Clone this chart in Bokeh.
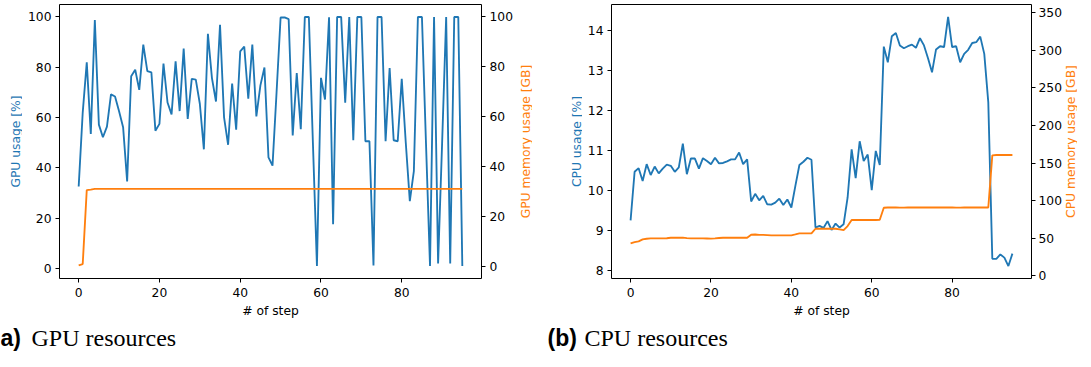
import math
from bokeh.plotting import figure
from bokeh.models import Range1d, LinearAxis, FixedTicker, Label
from bokeh.layouts import row, column
from bokeh.embed import file_html
from bokeh.resources import INLINE

# ---------------- data ----------------
steps = list(range(96))

gpu_usage = [32.6, 62.0, 82.0, 53.5, 98.8, 57.2, 52.2, 56.4, 69.2, 68.4,
             62.5, 56.2, 34.6, 76.4, 79.0, 71.0, 89.0, 78.5, 78.0, 54.8,
             57.5, 81.5, 66.0, 61.3, 82.4, 62.6, 87.4, 59.5, 75.4, 75.1,
             65.5, 47.4, 93.3, 75.7, 66.4, 96.9, 60.1, 49.2, 73.5, 55.2,
             86.3, 88.2, 67.5, 89.0, 60.5, 72.8, 79.9, 44.2, 40.9, 70.0,
             99.8, 99.8, 99.1, 52.9, 77.7, 55.4, 100.0, 100.0, 50.0, 1.0,
             75.8, 67.2, 99.9, 17.6, 100.0, 100.0, 65.9, 100.0, 51.0, 100.0,
             100.0, 50.6, 50.6, 1.2, 100.0, 100.0, 50.6, 79.7, 51.0, 50.6,
             75.4, 50.0, 26.8, 38.7, 100.0, 100.0, 50.0, 1.0, 100.0, 2.0,
             50.0, 100.0, 2.0, 100.0, 100.0, 1.0]

gpu_mem = [0.3, 0.8, 30.5, 30.7, 31.0, 31.0, 31.0, 31.0, 31.0, 31.0,
           31.0, 31.0, 31.0, 31.0, 31.0, 31.0, 31.0, 31.0, 31.0, 31.0,
           31.0, 31.0, 31.0, 31.0, 31.0, 31.0, 31.0, 31.0, 31.0, 31.0,
           31.0, 31.0, 31.0, 31.0, 31.0, 31.0, 31.0, 31.0, 31.0, 31.0,
           31.0, 31.0, 31.0, 31.0, 31.0, 31.0, 31.0, 31.0, 31.0, 31.0,
           31.0, 31.0, 31.0, 31.0, 31.0, 31.0, 31.0, 31.0, 31.0, 31.0,
           31.0, 31.0, 31.0, 31.0, 31.0, 31.0, 31.0, 31.0, 31.0, 31.0,
           31.0, 31.0, 31.0, 31.0, 31.0, 31.0, 31.0, 31.0, 31.0, 31.0,
           31.0, 31.0, 31.0, 31.0, 31.0, 31.0, 31.0, 31.0, 31.0, 31.0,
           31.0, 31.0, 31.0, 31.0, 31.0, 31.0]

cpu_usage = [9.26, 10.47, 10.56, 10.24, 10.66, 10.39, 10.60, 10.43, 10.55, 10.65,
             10.62, 10.47, 10.58, 11.17, 10.41, 10.80, 10.80, 10.55, 10.81, 10.74,
             10.66, 10.82, 10.68, 10.69, 10.73, 10.78, 10.78, 10.95, 10.66, 10.78,
             9.73, 9.92, 9.76, 9.87, 9.66, 9.65, 9.70, 9.80, 9.64, 9.78,
             9.58, 10.12, 10.64, 10.72, 10.82, 10.77, 9.08, 9.12, 9.07, 9.24,
             9.02, 9.18, 9.08, 9.16, 9.83, 11.03, 10.31, 11.23, 10.74, 10.90,
             10.01, 10.99, 10.64, 13.59, 13.20, 13.85, 13.93, 13.62, 13.55, 13.60,
             13.64, 13.56, 13.80, 13.62, 13.30, 12.95, 13.52, 13.60, 13.58, 14.33,
             13.58, 13.60, 13.20, 13.41, 13.51, 13.68, 13.70, 13.84, 13.41, 12.20,
             8.30, 8.30, 8.41, 8.33, 8.12, 8.43]

cpu_mem = [43.1, 44.9, 45.8, 48.4, 49.3, 49.7, 49.7, 49.8, 49.8, 50.0,
           50.6, 50.6, 50.6, 50.8, 50.2, 49.7, 49.7, 49.7, 49.7, 49.6,
           49.5, 49.7, 50.3, 50.6, 50.6, 50.6, 50.6, 50.6, 50.6, 50.6,
           54.6, 55.0, 54.5, 54.5, 54.2, 53.7, 53.7, 53.7, 53.7, 53.7,
           53.7, 55.0, 56.4, 56.4, 56.4, 56.4, 62.6, 62.6, 62.6, 62.6,
           62.6, 62.6, 61.7, 60.8, 66.2, 74.2, 74.2, 74.2, 74.2, 74.2,
           74.2, 74.2, 74.6, 90.6, 90.9, 90.9, 90.9, 90.8, 90.8, 90.9,
           90.9, 90.9, 90.9, 90.9, 90.9, 90.9, 90.9, 90.9, 90.9, 90.9,
           90.9, 90.8, 90.8, 90.9, 90.9, 90.9, 90.9, 90.9, 90.9, 90.9,
           160.3, 160.7, 160.7, 160.7, 160.7, 160.7]

x_ticks = [0, 20, 40, 60, 80]
gpu_ticks = [0, 20, 40, 60, 80, 100]
gpu_mem_ticks = [0, 20, 40, 60, 80, 100]
cpu_ticks = [8, 9, 10, 11, 12, 13, 14]
cpu_mem_ticks = [0, 50, 100, 150, 200, 250, 300, 350]

BLUE = "#1f77b4"
ORANGE = "#ff7f0e"
FONT = "DejaVu Sans"
FS = "12.3px"
FRAME_H = 274
TOP = 4
BOTTOM = 44


def style_axis(ax, ticks, standoff=4):
    ax.ticker = FixedTicker(ticks=ticks)
    ax.axis_line_color = None
    ax.major_tick_line_color = "black"
    ax.major_tick_line_width = 1
    ax.major_tick_out = 4
    ax.major_tick_in = 0
    ax.minor_tick_line_color = None
    ax.major_label_text_font = FONT
    ax.major_label_text_font_size = FS
    ax.major_label_text_color = "black"
    ax.major_label_standoff = standoff


def blank(width, frame_h, top, bottom):
    f = figure(frame_width=width, frame_height=frame_h,
               x_range=Range1d(0, 1), y_range=Range1d(0, 1),
               x_axis_type=None, y_axis_type=None,
               output_backend="svg", toolbar_location=None,
               min_border_left=0, min_border_right=0,
               min_border_top=top, min_border_bottom=bottom)
    f.outline_line_color = None
    f.background_fill_color = "white"
    f.border_fill_color = "white"
    return f


def axis_title(width, text, color, cx):
    f = blank(width, FRAME_H, TOP, BOTTOM)
    f.add_layout(Label(x=cx, y=FRAME_H / 2, x_units="screen", y_units="screen",
                       text=text, angle=math.pi / 2,
                       text_align="center", text_baseline="middle",
                       text_font=FONT, text_font_size=FS, text_color=color))
    return f


def make_panel(usage, mem, y_rng, mem_rng, y_ticks, mem_ticks,
               frame_w, border_left, border_right, right_standoff):
    p = figure(frame_width=frame_w, frame_height=FRAME_H,
               x_range=Range1d(-4.75, 99.75), y_range=Range1d(*y_rng),
               output_backend="svg", toolbar_location=None,
               min_border_left=border_left, min_border_right=border_right,
               min_border_top=TOP, min_border_bottom=BOTTOM)
    p.extra_y_ranges = {"mem": Range1d(*mem_rng)}
    rax = LinearAxis(y_range_name="mem")
    p.add_layout(rax, "right")

    p.line(steps, usage, color=BLUE, line_width=1.85)
    p.line(steps, mem, color=ORANGE, line_width=1.85, y_range_name="mem")

    p.grid.visible = False
    p.outline_line_color = "black"
    p.outline_line_width = 1
    p.outline_line_alpha = 1
    p.background_fill_color = "white"
    p.border_fill_color = "white"

    style_axis(p.xaxis[0], x_ticks, standoff=5)
    style_axis(p.yaxis[0], y_ticks)
    style_axis(rax, mem_ticks, standoff=right_standoff)

    xa = p.xaxis[0]
    xa.axis_label = "# of step"
    xa.axis_label_text_font = FONT
    xa.axis_label_text_font_size = FS
    xa.axis_label_text_font_style = "normal"
    xa.axis_label_text_color = "black"
    xa.axis_label_standoff = 4
    return p


pa = make_panel(gpu_usage, gpu_mem, (-3.95, 104.95), (-5, 105),
                gpu_ticks, gpu_mem_ticks, 422, 37, 37, 4)
pb = make_panel(cpu_usage, cpu_mem, (7.81, 14.64), (-3.6, 361.0),
                cpu_ticks, cpu_mem_ticks, 420, 29, 31, 3)

ya = axis_title(22, "GPU usage [%]", BLUE, 15)
ra = axis_title(14, "GPU memory usage [GB]", ORANGE, 7)
yb = axis_title(50, "CPU usage [%]", BLUE, 44)
rb = axis_title(13, "CPU memory usage [GB]", ORANGE, 6.5)

cap = blank(1075, 29, 0, 0)
for txt, x, bold in [("a)", 0, True), ("GPU resources", 31, False),
                     ("(b)", 547, True), ("CPU resources", 584, False)]:
    cap.add_layout(Label(x=x, y=14, x_units="screen", y_units="screen", text=txt,
                         text_align="left", text_baseline="alphabetic",
                         text_font="Liberation Sans" if bold else "Liberation Serif",
                         text_font_style="bold" if bold else "normal",
                         text_font_size="23px" if bold else "24px",
                         text_color="black"))

layout = column(row(ya, pa, ra, yb, pb, rb), cap)
open("out.html", "w").write(file_html(layout, INLINE))
